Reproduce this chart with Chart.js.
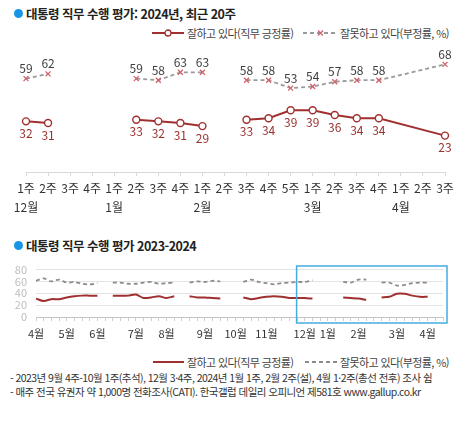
<!DOCTYPE html>
<html lang="ko">
<head>
<meta charset="utf-8">
<script src="https://cdn.jsdelivr.net/npm/chart.js@4.4.1/dist/chart.umd.min.js"></script>
<style>
  body { margin: 0; width: 474px; height: 423px; position: relative; background: #fff; overflow: hidden;
         font-family: "Noto Sans CJK KR", "Liberation Sans", sans-serif; color: #333; }
  .abs { position: absolute; white-space: nowrap; }
  .title { font-size: 12.5px; font-weight: bold; color: #222; letter-spacing: -0.5px; }
  .dot { position: absolute; width: 9px; height: 9px; border-radius: 50%; background: #1a95e6; }
  .legend { font-size: 11px; letter-spacing: -0.6px; color: #444; }
  .note { font-size: 10.5px; letter-spacing: -0.55px; color: #333; }
  svg { position: absolute; }
</style>
</head>
<body>
<div class="dot" style="left:14px; top:9px;"></div>
<div class="abs title" style="left:26px; top:4px;">대통령 직무 수행 평가: 2024년, 최근 20주</div>

<svg style="left:152px; top:28px;" width="32" height="10">
  <line x1="0" y1="5" x2="32" y2="5" stroke="#a0302f" stroke-width="2"/>
  <circle cx="16" cy="5" r="3" fill="#fff" stroke="#a0302f" stroke-width="1.3"/>
</svg>
<div class="abs legend" style="left:187px; top:25px;">잘하고 있다(직무 긍정률)</div>
<svg style="left:303px; top:28px;" width="35" height="10">
  <line x1="0" y1="5" x2="35" y2="5" stroke="#9a9a9a" stroke-width="1.8" stroke-dasharray="4,3"/>
  <path d="M15 2.5 L20 7.5 M20 2.5 L15 7.5" stroke="#d0606a" stroke-width="1.2"/>
</svg>
<div class="abs legend" style="left:340px; top:25px;">잘못하고 있다(부정률, %)</div>

<div class="abs" style="left:0; top:40px; width:474px; height:180px;"><canvas id="topChart" width="474" height="180"></canvas></div>

<div class="dot" style="left:14px; top:241px;"></div>
<div class="abs title" style="left:26px; top:236px;">대통령 직무 수행 평가 2023-2024</div>

<div class="abs" style="left:0; top:255px; width:474px; height:95px;"><canvas id="bottomChart" width="474" height="95"></canvas></div>

<svg style="left:153px; top:357px;" width="31" height="10">
  <line x1="0" y1="5" x2="31" y2="5" stroke="#a0302f" stroke-width="2"/>
</svg>
<div class="abs legend" style="left:187px; top:354px;">잘하고 있다(직무 긍정률)</div>
<svg style="left:305px; top:357px;" width="33" height="10">
  <line x1="0" y1="5" x2="33" y2="5" stroke="#8c8c8c" stroke-width="1.8" stroke-dasharray="4,3"/>
</svg>
<div class="abs legend" style="left:340px; top:354px;">잘못하고 있다(부정률, %)</div>

<div class="abs note" style="left:10px; top:370px;">- 2023년 9월 4주-10월 1주(추석), 12월 3·4주, 2024년 1월 1주, 2월 2주(설), 4월 1·2주(총선 전후) 조사 쉼</div>
<div class="abs note" style="left:10px; top:384px;">- 매주 전국 유권자 약 1,000명 전화조사(CATI). 한국갤럽 데일리 오피니언 제581호 www.gallup.co.kr</div>

<script>
const FONT = '"Noto Sans CJK KR", "Liberation Sans", sans-serif';
const POS_COLOR = "#a0302f";
const NEG_COLOR = "#9a9a9a";

// 최근 20주
const TOP_WEEKS = ["1주", "2주", "3주", "4주", "1주", "2주", "3주", "4주", "1주", "2주", "3주", "4주", "5주", "1주", "2주", "3주", "4주", "1주", "2주", "3주"];
const TOP_MONTHS = ["12월", "", "", "", "1월", "", "", "", "2월", "", "", "", "", "3월", "", "", "", "4월", "", ""];
const TOP_POSITIVE = [32, 31, null, null, null, 33, 32, 31, 29, null, 33, 34, 39, 39, 36, 34, 34, null, null, 23];
const TOP_NEGATIVE = [59, 62, null, null, null, 59, 58, 63, 63, null, 58, 58, 53, 54, 57, 58, 58, null, null, 68];

// 2023-2024 주별 (2023년 4월 1주 ~ 2024년 4월 3주)
const BOTTOM_MONTHS = [
  "4월", "", "", "",
  "5월", "", "", "",
  "6월", "", "", "", "",
  "7월", "", "", "",
  "8월", "", "", "", "",
  "9월", "", "", "",
  "10월", "", "", "",
  "11월", "", "", "", "",
  "12월", "", "", "1월",
  "", "", "", "2월",
  "", "", "", "", "3월",
  "", "", "", "4월", "", "",
];
const BOTTOM_POSITIVE = [
  31, 27, 30, 30,
  33, 35, 36, 36,
  36, null, 36, 36, 36,
  38, 32, 33, 35,
  32, 35, null, 35, 33,
  33, 32, 31, null,
  null, 33, 30, 32,
  34, 35, 34, 32, 32,
  32, 31, null, null,
  null, 33, 32, 31,
  29, null, 33, 34, 39,
  39, 36, 34, 34,
  null, null, 23,
];
const BOTTOM_NEGATIVE = [
  61, 65, 60, 63,
  58, 59, 56, 55,
  57, null, 58, 58, 56,
  56, 58, 59, 56,
  57, 58, null, 58, 60,
  59, 61, 60, null,
  null, 59, 63, 59,
  57, 55, 57, 58, 59,
  59, 62, null, null,
  null, 59, 58, 63,
  63, null, 58, 58, 53,
  54, 57, 58, 58,
  null, null, 68,
];

Chart.defaults.font.family = FONT;
Chart.defaults.animation = false;

const valueLabels = {
  id: "valueLabels",
  afterDatasetsDraw(chart) {
    const { ctx } = chart;
    chart.data.datasets.forEach((ds, i) => {
      const meta = chart.getDatasetMeta(i);
      meta.data.forEach((pt, j) => {
        const v = ds.data[j];
        if (v == null) return;
        ctx.save();
        ctx.font = `12px ${FONT}`;
        ctx.fillStyle = ds.labelColor;
        ctx.textAlign = "center";
        ctx.textBaseline = "middle";
        ctx.fillText(String(v), pt.x, pt.y + ds.labelOffset);
        ctx.restore();
      });
    });
  },
};

// 조사 쉰 주는 비워 두고, 마지막 점(4월 3주)으로 가는 공백만 이어 그림
function gapColor(data, color) {
  const lastIdx = data.length - 1;
  return (c) => {
    const a = c.p0DataIndex, b = c.p1DataIndex;
    if (data[a] != null && data[b] != null) return color;
    let k = b;
    while (k < data.length && data[k] == null) k++;
    return k === lastIdx ? color : "transparent";
  };
}

function initTopChart() {
  return new Chart(document.getElementById("topChart"), {
    type: "line",
    data: {
      labels: TOP_WEEKS,
      datasets: [
        {
          label: "잘하고 있다(직무 긍정률)",
          data: TOP_POSITIVE,
          borderColor: POS_COLOR,
          borderWidth: 2,
          pointStyle: "circle",
          pointRadius: 3.5,
          pointBackgroundColor: "#fff",
          pointBorderColor: POS_COLOR,
          pointBorderWidth: 1.4,
          spanGaps: true,
          segment: { borderColor: gapColor(TOP_POSITIVE, POS_COLOR) },
          clip: false,
          labelColor: "#9b3030",
          labelOffset: 12,
        },
        {
          label: "잘못하고 있다(부정률, %)",
          data: TOP_NEGATIVE,
          borderColor: NEG_COLOR,
          borderWidth: 1.8,
          borderDash: [4, 3],
          pointStyle: "crossRot",
          pointRadius: 3.5,
          pointBorderColor: "#d0606a",
          pointBorderWidth: 1.3,
          spanGaps: true,
          segment: { borderColor: gapColor(TOP_NEGATIVE, NEG_COLOR), borderDash: [4, 3] },
          clip: false,
          labelColor: "#404040",
          labelOffset: -10,
        },
      ],
    },
    options: {
      responsive: false,
      layout: { padding: { left: 26, right: 29, top: 4, bottom: 0 } },
      plugins: { legend: { display: false }, tooltip: { enabled: false } },
      scales: {
        x: {
          afterFit: (s) => { s.height = 48; },
          grid: { drawOnChartArea: false, tickLength: 4, color: "#d9d9d9" },
          border: { color: "#d9d9d9" },
          ticks: {
            autoSkip: false,
            maxRotation: 0,
            padding: 3,
            color: "#333",
            font: { size: 12, lineHeight: 1.6 },
            callback: (v, i) => (TOP_MONTHS[i] ? [TOP_WEEKS[i], TOP_MONTHS[i]] : TOP_WEEKS[i]),
          },
        },
        y: { display: false, min: 0, max: 80 },
      },
    },
    plugins: [valueLabels],
  });
}

const highlightBox = {
  id: "highlightBox",
  afterDraw(chart) {
    const { ctx, chartArea, scales } = chart;
    const from = BOTTOM_MONTHS.length - TOP_WEEKS.length;
    const left = scales.x.getPixelForValue(from) - 0.5;
    const top = chartArea.top - 3.5;
    ctx.save();
    ctx.strokeStyle = "#45ace0";
    ctx.lineWidth = 1.5;
    ctx.strokeRect(left, top, chartArea.right + 4 - left, chartArea.bottom + 6 - top);
    ctx.restore();
  },
};

function initBottomChart() {
  const last = BOTTOM_MONTHS.length - 1;
  const lastOnly = (c) => (c.dataIndex === last ? 4 : 0);
  return new Chart(document.getElementById("bottomChart"), {
    type: "line",
    data: {
      labels: BOTTOM_MONTHS,
      datasets: [
        {
          data: BOTTOM_POSITIVE,
          borderColor: POS_COLOR,
          borderWidth: 2,
          pointStyle: "line",
          pointRadius: lastOnly,
          pointBorderColor: POS_COLOR,
          pointBorderWidth: 2,
          tension: 0.3,
          clip: false,
        },
        {
          data: BOTTOM_NEGATIVE,
          borderColor: "#8c8c8c",
          borderWidth: 1.8,
          borderDash: [4, 3],
          pointStyle: "line",
          pointRadius: lastOnly,
          pointBorderColor: "#8c8c8c",
          pointBorderWidth: 1.8,
          tension: 0.3,
          clip: false,
        },
      ],
    },
    options: {
      responsive: false,
      layout: { padding: { left: 0, right: 31, top: 10, bottom: 0 } },
      plugins: { legend: { display: false }, tooltip: { enabled: false } },
      scales: {
        x: {
          afterFit: (s) => { s.height = 33; },
          grid: { drawOnChartArea: false, tickLength: 4, color: "#cfcfcf" },
          border: { color: "#c4c4c4" },
          ticks: { autoSkip: false, maxRotation: 0, padding: 6, color: "#333", font: { size: 11 } },
        },
        y: {
          min: 0,
          max: 80,
          afterFit: (s) => { s.width = 36; },
          border: { display: false },
          grid: { color: "#e3e3e3", drawTicks: false },
          ticks: { stepSize: 20, autoSkip: false, padding: 9, color: "#bdbdbd", font: { size: 11, lineHeight: 1 } },
        },
      },
    },
    plugins: [highlightBox],
  });
}

document.addEventListener("DOMContentLoaded", () => {
  initTopChart();
  initBottomChart();
});
</script>
</body>
</html>
